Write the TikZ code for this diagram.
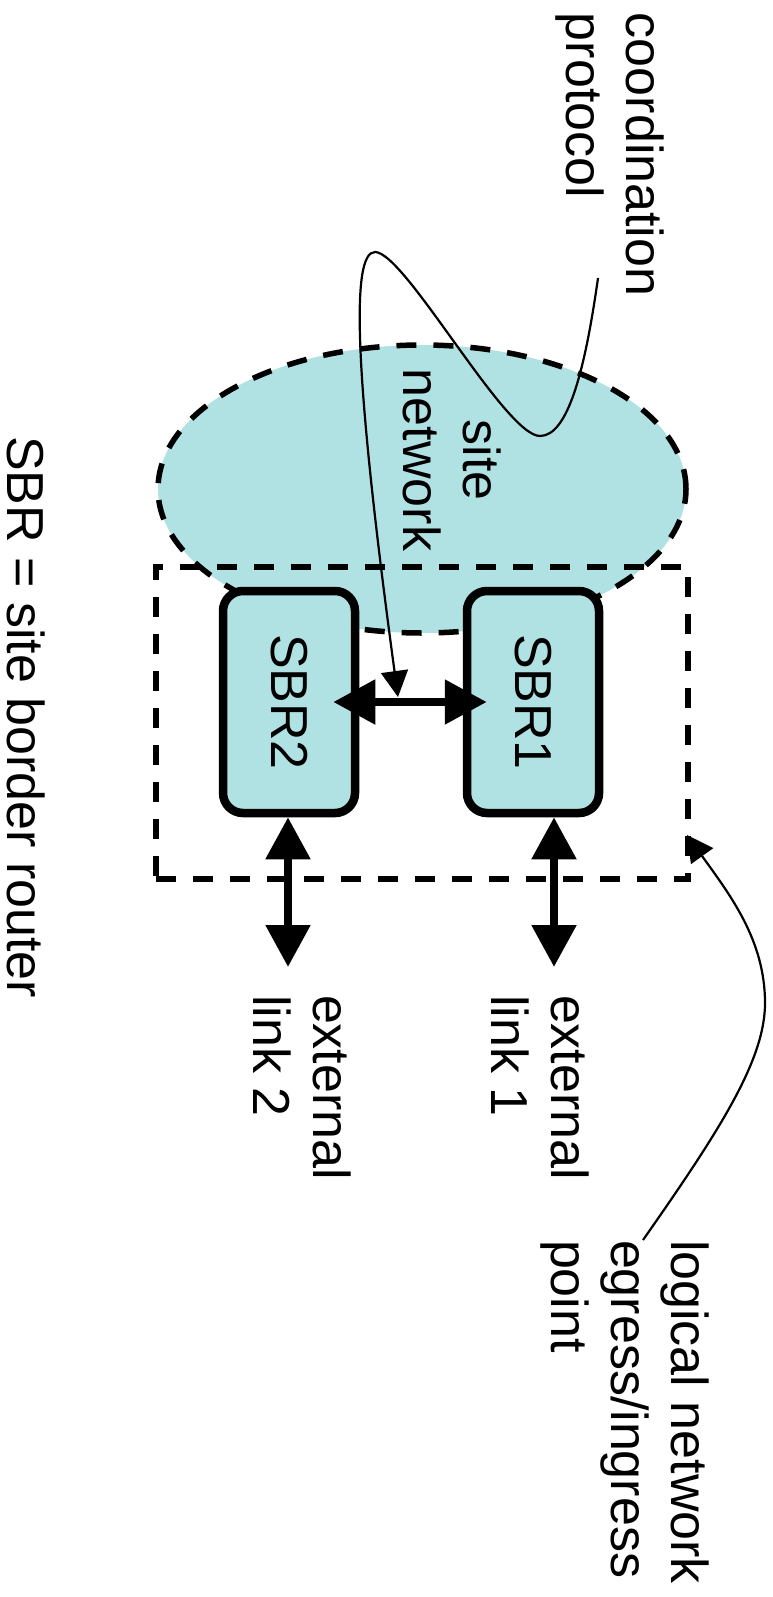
\documentclass[tikz,border=0pt]{standalone}
\usepackage{fontspec}
\usepackage{graphicx}
\setmainfont{Liberation Sans}
\usetikzlibrary{arrows.meta,shapes.geometric}
\definecolor{sbrfill}{RGB}{176,225,227}
\begin{document}
\begin{tikzpicture}[x=1pt,y=1pt,
  lbl/.style={font=\fontsize{52}{60}\selectfont, inner sep=0pt, outer sep=0pt, rotate=-90},
  router/.style={draw, line width=8.5pt, fill=sbrfill, rounded corners=20pt, minimum width=132pt, minimum height=222pt, inner sep=0pt, font=\fontsize{52}{60}\selectfont},
  dsh/.style={line width=5.5pt, dash pattern=on 20pt off 17pt},
  bigarrow/.style={line width=8.5pt, {Triangle[length=42pt,width=43pt]}-{Triangle[length=42pt,width=43pt]}},
  thinarrow/.style={line width=2.2pt, -{Triangle[length=26pt,width=27pt]}},
]
\useasboundingbox (0,0) rectangle (773,-1597);
\node[ellipse, draw, dsh, fill=sbrfill, minimum width=528pt, minimum height=288pt, inner sep=0pt] (site) at (422,-489) {};
\node[draw, dsh, minimum width=532pt, minimum height=312pt, inner sep=0pt] (lnep) at (422,-723) {};
\node[router] (sbr1) at (533,-702) {\rotatebox{-90}{SBR1}};
\node[router] (sbr2) at (289,-702) {\rotatebox{-90}{SBR2}};

\draw[bigarrow, shorten <=-26pt, shorten >=-24pt] (sbr2.east) -- (sbr1.west);
\coordinate (e1) at (554,-967);
\coordinate (e2) at (288,-967);
\draw[bigarrow] (sbr1.south -| e1) -- (e1);
\draw[bigarrow] (sbr2.south -| e2) -- (e2);

\node[lbl, anchor=west, align=left] (ext1) at (540,-995) {external\\link 1};
\node[lbl, anchor=west, align=left] (ext2) at (302,-995) {external\\link 2};
\node[lbl, anchor=west, align=left] (coord) at (610,-13) {coordination\\protocol};
\node[lbl, anchor=west, align=left] (lnlabel) at (625,-1240) {logical network\\egress/ingress\\point};
\node[lbl, anchor=west] (legend) at (26.5,-436) {SBR = site border router};
\node[lbl, align=center] (sitelbl) at (452,-460) {site\\network};

\coordinate (cpstart) at (598,-278);
\coordinate (cptip) at (398,-697);
\draw[thinarrow] (cpstart) .. controls (585,-370) and (568,-436) .. (540,-436)
  .. controls (505,-436) and (405,-252) .. (375,-252)
  .. controls (350,-252) and (355,-380) .. (cptip);

\coordinate (lnstart) at (643,-1240);
\coordinate (lntip) at (687,-835);
\draw[thinarrow] (lnstart) .. controls (720,-1130) and (765,-1060) .. (765,-1003)
  .. controls (765,-940) and (730,-895) .. (lntip);
\end{tikzpicture}
\end{document}
